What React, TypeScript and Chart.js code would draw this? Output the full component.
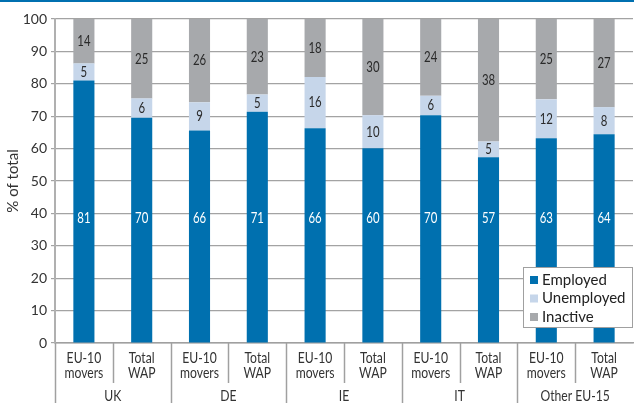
import React, { useEffect, useRef } from "react";
import { Chart, registerables } from "chart.js";

Chart.register(...registerables);

// ---- data ----
const groups = ["UK", "DE", "IE", "IT", "Other EU-15"];
const subCategories = [["EU-10", "movers"], ["Total", "WAP"]];
const categories = groups.flatMap(() => subCategories);
const seriesNames = ["Employed", "Unemployed", "Inactive"];
const employed = [81.0, 69.5, 65.6, 71.4, 66.3, 60.1, 70.3, 57.3, 63.2, 64.4];
const unemployed = [5.3, 6.0, 8.7, 5.3, 15.8, 10.2, 6.0, 4.9, 12.0, 8.4];
const inactive = [13.7, 24.5, 25.7, 23.3, 17.9, 29.7, 23.7, 37.8, 24.8, 27.2];
const yTicks = [0, 10, 20, 30, 40, 50, 60, 70, 80, 90, 100];
const yTitle = "% of total";

// ---- styles ----
const COLORS = ["#0070af", "#c6d6ea", "#a7a9ac"];
const REG = 'Lato, "Open Sans", sans-serif';
const NARROW_SCALE = 0.76;
const EMP_LABEL_LEVEL = 38.5;

function narrowText(ctx: CanvasRenderingContext2D, text: string, x: number, y: number) {
  ctx.save();
  ctx.translate(x, y);
  ctx.scale(NARROW_SCALE, 1);
  ctx.fillText(text, 0, 0);
  ctx.restore();
}

const decoPlugin = {
  id: "deco",
  beforeDraw(chart: any) {
    const ctx = chart.ctx;
    ctx.save();
    ctx.strokeStyle = "#0070b0";
    ctx.lineWidth = 2;
    ctx.beginPath();
    ctx.moveTo(0, 1);
    ctx.lineTo(chart.width, 1);
    ctx.stroke();
    ctx.restore();
  },
  afterDraw(chart: any) {
    const ctx = chart.ctx;
    const ca = chart.chartArea;
    const x = chart.scales.x;
    const y = chart.scales.y;
    const n = categories.length;
    const catW = (ca.right - ca.left) / n;
    ctx.save();

    // separators
    ctx.strokeStyle = "#a0a0a0";
    ctx.lineWidth = 1.5;
    for (let i = 0; i < n; i++) {
      const px = Math.round(ca.left + i * catW) + 0.5;
      const y2 = i % 2 === 0 ? chart.height : ca.bottom + 40;
      ctx.beginPath();
      ctx.moveTo(px, ca.bottom);
      ctx.lineTo(px, y2);
      ctx.stroke();
    }

    // category labels
    ctx.fillStyle = "#333";
    ctx.font = `16px ${REG}`;
    ctx.textAlign = "center";
    ctx.textBaseline = "middle";
    categories.forEach((lines, i) => {
      const cx = x.getPixelForValue(i);
      lines.forEach((t, li) => narrowText(ctx, t, cx, ca.bottom + 15 + li * 15));
    });

    // group labels
    groups.forEach((g, gi) => {
      const cx = (x.getPixelForValue(gi * 2) + x.getPixelForValue(gi * 2 + 1)) / 2;
      narrowText(ctx, g, cx, ca.bottom + 53);
    });

    // value labels
    ctx.font = `15px ${REG}`;
    chart.data.datasets.forEach((ds: any, di: number) => {
      const meta = chart.getDatasetMeta(di);
      meta.data.forEach((bar: any, i: number) => {
        const v = ds.data[i];
        const label = String(Math.round(v));
        let py: number;
        if (di === 0) {
          py = y.getPixelForValue(EMP_LABEL_LEVEL);
          ctx.fillStyle = "#ffffff";
        } else {
          py = (bar.y + bar.base) / 2;
          ctx.fillStyle = "#2a2a2a";
        }
        narrowText(ctx, label, bar.x, py);
      });
    });

    // legend
    const lx = ca.right - 110;
    const lt = ca.bottom - 76;
    const lw = 109;
    const lh = 60;
    ctx.fillStyle = "#ffffff";
    ctx.fillRect(lx, lt, lw, lh);
    ctx.strokeStyle = "#a0a0a0";
    ctx.lineWidth = 1;
    ctx.strokeRect(lx + 0.5, lt + 0.5, lw, lh);
    ctx.font = `15px ${REG}`;
    ctx.textAlign = "left";
    ctx.textBaseline = "middle";
    chart.data.datasets.forEach((ds: any, di: number) => {
      const cy = lt + 13 + di * 18.5;
      ctx.fillStyle = COLORS[di];
      ctx.fillRect(lx + 7, cy - 4, 8, 8);
      ctx.fillStyle = "#222";
      ctx.fillText(ds.label, lx + 19, cy);
    });

    ctx.restore();
  },
};

export default function App() {
  const ref = useRef<HTMLCanvasElement | null>(null);
  useEffect(() => {
    document.body.style.margin = "0";
    if (!ref.current) return;
    const data = [employed, unemployed, inactive];
    const chart = new Chart(ref.current, {
      type: "bar",
      data: {
        labels: categories.map((c) => c.join(" ")),
        datasets: seriesNames.map((name, i) => ({
          label: name,
          data: data[i],
          backgroundColor: COLORS[i],
          borderWidth: 0,
          barPercentage: 0.365,
          categoryPercentage: 1,
        })),
      },
      options: {
        animation: false,
        responsive: true,
        maintainAspectRatio: false,
        layout: { padding: { top: 19, right: 1, left: 0, bottom: 0 } },
        plugins: { legend: { display: false }, tooltip: { enabled: false } },
        scales: {
          x: {
            stacked: true,
            grid: { display: false },
            border: { display: true, color: "#a0a0a0", width: 1.5 },
            ticks: { display: false },
            afterFit(scale: any) {
              scale.height = 60;
            },
          },
          y: {
            stacked: true,
            min: 0,
            max: 100,
            afterBuildTicks(scale: any) {
              scale.ticks = yTicks.map((v) => ({ value: v }));
            },
            grid: { color: "#a3a3a3", lineWidth: 1.2, drawTicks: true, tickLength: 4 },
            border: { display: true, color: "#b0b0b0", width: 2 },
            ticks: {
              color: "#333",
              font: { family: REG, size: 14 },
              padding: 4,
            },
            title: {
              display: true,
              text: yTitle,
              color: "#333",
              font: { family: REG, size: 15 },
              padding: { top: 4, bottom: 0 },
            },
            afterFit(scale: any) {
              scale.width = 55;
            },
          },
        },
      },
      plugins: [decoPlugin],
    });
    return () => chart.destroy();
  }, []);
  return (
    <div style={{ width: 634, height: 403, position: "relative" }}>
      <canvas ref={ref} />
    </div>
  );
}
